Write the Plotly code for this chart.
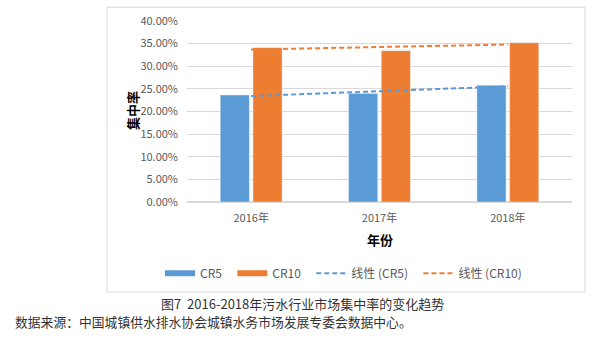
import numpy as np
import plotly.graph_objects as go

years = ["2016年", "2017年", "2018年"]
cr5 = [0.2365, 0.2400, 0.2580]
cr10 = [0.3410, 0.3345, 0.3520]
y_ticks = [0, 0.05, 0.10, 0.15, 0.20, 0.25, 0.30, 0.35, 0.40]

BLUE = "#5B9BD5"
ORANGE = "#ED7D31"
GRAY_TXT = "#595959"
GRID = "#D9D9D9"
FONT = "Noto Sans CJK SC"

W, H = 599, 362
L, R, T, B = 187, 27, 19, 160
pw, ph = W - L - R, H - T - B

def px_x(x):
    return (x - L) / pw

def px_y(y):
    return (H - B - y) / ph

idx = np.arange(len(years))
fit5 = np.polyval(np.polyfit(idx, cr5, 1), idx)
fit10 = np.polyval(np.polyfit(idx, cr10, 1), idx)

fig = go.Figure()
fig.add_trace(go.Bar(x=years, y=cr5, name="CR5", marker_color=BLUE, showlegend=False))
fig.add_trace(go.Bar(x=years, y=cr10, name="CR10", marker_color=ORANGE, showlegend=False))
fig.add_trace(go.Scatter(x=years, y=fit5, mode="lines", showlegend=False,
                         line=dict(color=BLUE, width=2, dash="5px,3px")))
fig.add_trace(go.Scatter(x=years, y=fit10, mode="lines", showlegend=False,
                         line=dict(color=ORANGE, width=2, dash="5px,3px")))
# legend entries
fig.add_trace(go.Scatter(x=[None], y=[None], mode="lines", name="CR5  ",
                         line=dict(color=BLUE, width=6)))
fig.add_trace(go.Scatter(x=[None], y=[None], mode="lines", name="CR10  ",
                         line=dict(color=ORANGE, width=6)))
fig.add_trace(go.Scatter(x=[None], y=[None], mode="lines", name="线性 (CR5)  ",
                         line=dict(color=BLUE, width=2, dash="5px,3px")))
fig.add_trace(go.Scatter(x=[None], y=[None], mode="lines", name="线性 (CR10)",
                         line=dict(color=ORANGE, width=2, dash="5px,3px")))

fig.update_layout(
    width=W, height=H,
    margin=dict(l=L, r=R, t=T, b=B, pad=0),
    paper_bgcolor="white", plot_bgcolor="white",
    font=dict(family=FONT, size=11, color=GRAY_TXT),
    barmode="group", bargap=0.49, bargroupgap=0.11,
    showlegend=True,
    hovermode=False,
    legend=dict(orientation="h", x=px_x(160), xanchor="left", y=px_y(274), yanchor="middle",
                font=dict(size=12, color=GRAY_TXT), itemwidth=30,
                bgcolor="rgba(0,0,0,0)"),
    xaxis=dict(showgrid=False, showline=False, ticks="", ticklabelstandoff=8,
               tickfont=dict(size=11, color=GRAY_TXT)),
    yaxis=dict(range=[0, 0.4], tickvals=y_ticks, tickformat=".2%", showgrid=True,
               gridcolor=GRID, gridwidth=1, zeroline=True, zerolinecolor=GRID,
               showline=False, ticks="", ticklabelstandoff=8,
               tickfont=dict(size=11, color=GRAY_TXT)),
    shapes=[dict(type="rect", xref="paper", yref="paper",
                 x0=px_x(107), x1=px_x(585), y0=px_y(293), y1=px_y(5),
                 line=dict(color=GRID, width=1), fillcolor="rgba(0,0,0,0)", layer="below")],
    annotations=[
        dict(text="<b>集中率</b>", xref="paper", yref="paper", x=px_x(132), y=px_y(110),
             showarrow=False, textangle=-90, font=dict(size=13, color="#000000"),
             xanchor="center", yanchor="middle"),
        dict(text="<b>年份</b>", xref="paper", yref="paper", x=px_x(380), y=px_y(240),
             showarrow=False, font=dict(size=13, color="#000000"),
             xanchor="center", yanchor="middle"),
        dict(text="图7\u00a0\u00a02016-2018年污水行业市场集中率的变化趋势", xref="paper", yref="paper",
             x=px_x(302), y=px_y(305), showarrow=False, font=dict(size=13, color="#333333"),
             xanchor="center", yanchor="middle"),
        dict(text="数据来源：中国城镇供水排水协会城镇水务市场发展专委会数据中心。", xref="paper", yref="paper",
             x=px_x(13), y=px_y(323), showarrow=False, font=dict(size=12.8, color="#333333"),
             xanchor="left", yanchor="middle"),
    ],
)

fig.write_html("out.html", config={"displayModeBar": False},
               post_script="document.body.style.margin='0';")
